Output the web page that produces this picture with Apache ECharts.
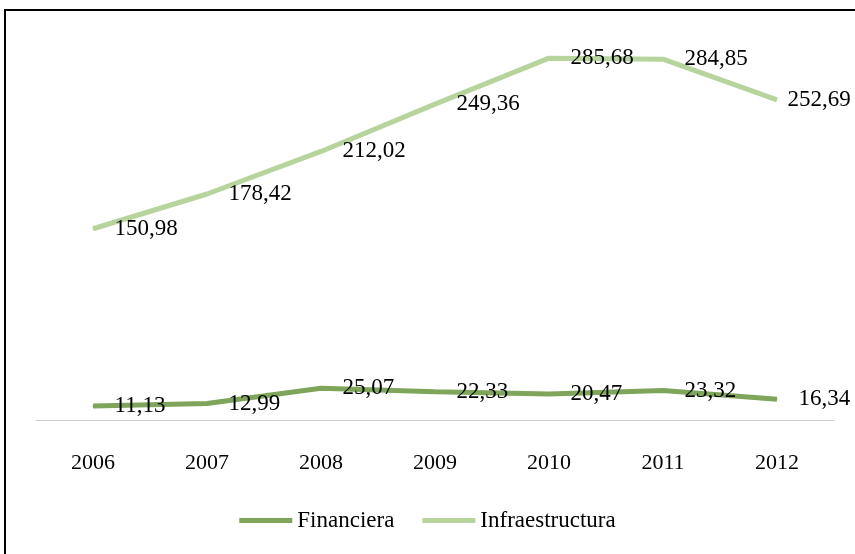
<!DOCTYPE html>
<html>
<head>
<meta charset="utf-8">
<script src="https://cdn.jsdelivr.net/npm/echarts@6/dist/echarts.min.js"></script>
<style>
  html, body { margin: 0; padding: 0; background: #fff; }
  #chart { width: 855px; height: 554px; }
</style>
</head>
<body>
<div id="chart"></div>
<script>
// años del eje x
var years = ['2006', '2007', '2008', '2009', '2010', '2011', '2012']
// valores de cada serie
var financiera = [11.13, 12.99, 25.07, 22.33, 20.47, 23.32, 16.34]
var infraestructura = [150.98, 178.42, 212.02, 249.36, 285.68, 284.85, 252.69]

var serifFont = '"Liberation Serif", "Times New Roman", serif'

function fmt(v) {
  return v.toFixed(2).replace('.', ',')
}

// la última etiqueta se acerca al punto para que quepa en el marco
function withLastLabel(data, distance) {
  return data.map(function (v, i) {
    if (i !== data.length - 1) return v
    return { value: v, label: { distance: distance } }
  })
}

function lineSeries(name, data, color) {
  return {
    name: name,
    type: 'line',
    data: data,
    symbol: 'circle',
    symbolSize: 1,
    showSymbol: true,
    lineStyle: { width: 5, color: color },
    itemStyle: { color: color },
    label: {
      show: true,
      position: 'right',
      distance: 21,
      offset: [0, 3],
      color: '#000',
      fontFamily: serifFont,
      fontSize: 23,
      formatter: function (p) { return fmt(p.value) }
    },
    labelLayout: { hideOverlap: false }
  }
}

var chart = echarts.init(document.getElementById('chart'))
chart.setOption({
  animation: false,
  graphic: [{
    type: 'rect',
    shape: { x: 5, y: 10, width: 900, height: 600 },
    style: { fill: 'none', stroke: '#000', lineWidth: 2 },
    z: 100
  }],
  grid: { left: 36, right: 21, top: 40, bottom: 134 },
  legend: {
    bottom: 17,
    left: 'center',
    itemWidth: 53,
    itemHeight: 5,
    itemGap: 28,
    icon: 'rect',
    textStyle: { fontFamily: serifFont, fontSize: 23, color: '#000' },
    data: ['Financiera', 'Infraestructura']
  },
  xAxis: {
    type: 'category',
    data: years,
    boundaryGap: true,
    axisLine: { lineStyle: { color: '#d0d0d0', width: 1 } },
    axisTick: { show: false },
    axisLabel: { margin: 32, color: '#000', fontFamily: serifFont, fontSize: 22 }
  },
  yAxis: {
    type: 'value',
    min: 0,
    max: 300,
    show: false,
    splitLine: { show: false }
  },
  series: [
    lineSeries('Financiera', financiera, '#7ea55a'),
    lineSeries('Infraestructura', withLastLabel(infraestructura, 10), '#b6d49c')
  ]
})
</script>
</body>
</html>
